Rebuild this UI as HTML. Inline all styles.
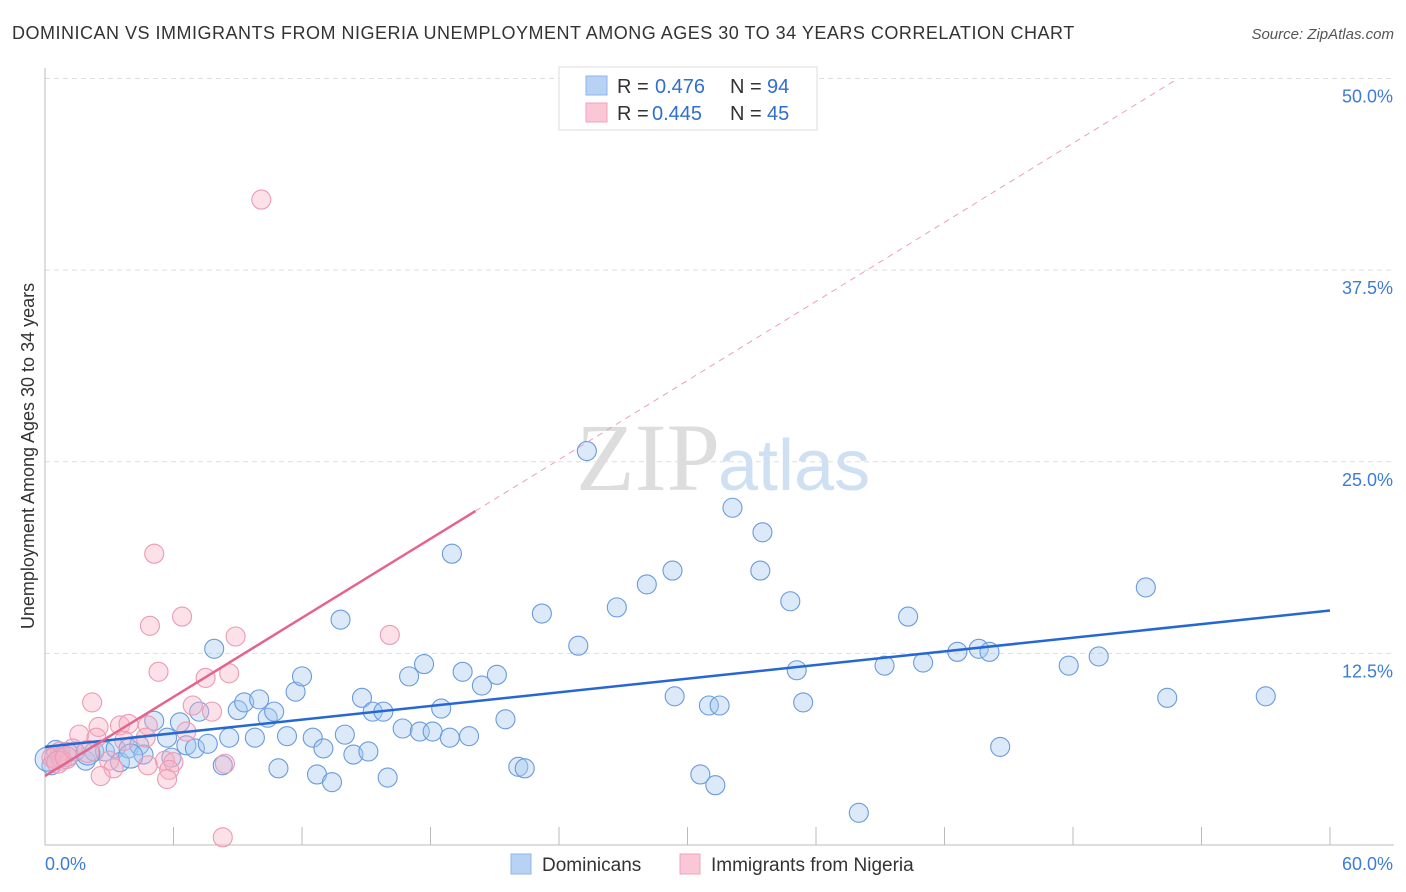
<!DOCTYPE html>
<html><head><meta charset="utf-8"><style>
body{margin:0;background:#fff;font-family:"Liberation Sans",sans-serif;}
#wrap{position:relative;width:1406px;height:892px;overflow:hidden;}
</style></head><body>
<div id="wrap">
<svg id="chart" width="1406" height="892" xmlns="http://www.w3.org/2000/svg">
<text x="12" y="39" font-size="18" fill="#333" letter-spacing="0.5">DOMINICAN VS IMMIGRANTS FROM NIGERIA UNEMPLOYMENT AMONG AGES 30 TO 34 YEARS CORRELATION CHART</text>
<text x="1394" y="39" font-size="15" fill="#555" font-style="italic" text-anchor="end">Source: ZipAtlas.com</text>
<text x="720" y="490" font-size="96" fill="#ddd" text-anchor="end" font-family="Liberation Serif,serif">ZIP</text>
<text x="718" y="490" font-size="72" fill="#cfe0f3">atlas</text>
<g id="grid"></g>
<g id="axes"></g>
<g id="marks"></g>
<g>
<rect x="559" y="67" width="258" height="63" fill="#fff" stroke="#ddd"/>
<rect x="586" y="76" width="21" height="19" fill="#b8d2f5" stroke="#8fb5e8"/>
<rect x="586" y="103" width="21" height="19" fill="#f9c7d6" stroke="#efa3bb"/>
<text x="617" y="93" font-size="20" fill="#333">R = </text><text x="655" y="93" font-size="20" fill="#2f6fd0">0.476</text>
<text x="730" y="93" font-size="20" fill="#333">N = </text><text x="767" y="93" font-size="20" fill="#2f6fd0">94</text>
<text x="617" y="120" font-size="20" fill="#333">R = </text><text x="652" y="120" font-size="20" fill="#2f6fd0">0.445</text>
<text x="730" y="120" font-size="20" fill="#333">N = </text><text x="767" y="120" font-size="20" fill="#2f6fd0">45</text>
</g>
<g>
<rect x="511" y="854" width="20" height="20" fill="#b8d2f5" stroke="#8fb5e8"/>
<text x="542" y="871" font-size="19" fill="#333">Dominicans</text>
<rect x="680" y="854" width="20" height="20" fill="#f9c7d6" stroke="#efa3bb"/>
<text x="711" y="871" font-size="19" fill="#333">Immigrants from Nigeria</text>
</g>
<text transform="translate(34,456) rotate(-90)" font-size="18" fill="#333" text-anchor="middle">Unemployment Among Ages 30 to 34 years</text>
</svg>
</div>
<script>
const yTicks=[12.5,25,37.5,50];
const yTickLabels=["12.5%","25.0%","37.5%","50.0%"];
const xTicks=[0,6,12,18,24,30,36,42,48,54,60];
const xEndLabels=["0.0%","60.0%"];
const domX=[0.3,0.7,1.9,0.5,1.4,2.3,2.8,3.3,3.5,3.9,4.4,4.6,5.1,5.7,5.9,6.3,6.6,7.0,7.2,7.6,7.9,8.3,8.6,9.0,9.3,9.8,10.0,10.4,10.7,10.9,11.3,11.7,12.0,12.5,12.7,13.0,13.4,13.8,14.0,14.4,14.8,15.1,15.3,15.8,16.0,16.7,17.0,17.5,17.7,18.1,18.5,18.9,19.0,19.5,19.8,20.4,21.1,21.5,22.1,22.4,23.2,24.9,25.3,26.7,28.1,29.3,29.4,30.6,31.0,31.3,31.5,32.1,33.4,33.5,34.8,35.1,35.4,38.0,39.2,40.3,41.0,42.6,43.6,44.1,44.6,47.8,49.2,51.4,52.4,57.0,0.1,1.0,2.0,4.0];
const domY=[5.2,5.7,5.5,6.2,6.1,6.1,6.1,6.3,5.4,6.3,6.5,5.9,8.1,7.0,5.7,8.0,6.5,6.3,8.7,6.6,12.8,5.2,7.0,8.8,9.3,7.0,9.5,8.3,8.7,5.0,7.1,10.0,11.0,7.0,4.6,6.3,4.1,14.7,7.2,5.9,9.6,6.1,8.7,8.7,4.4,7.6,11.0,7.4,11.8,7.4,8.9,7.0,19.0,11.3,7.1,10.4,11.1,8.2,5.1,5.0,15.1,13.0,25.7,15.5,17.0,17.9,9.7,4.6,9.1,3.9,9.1,22.0,17.9,20.4,15.9,11.4,9.3,2.1,11.7,14.9,11.9,12.6,12.8,12.6,6.4,11.7,12.3,16.8,9.6,9.7,5.6,5.9,6.0,5.8];
const nigX=[10.1,5.1,6.4,4.9,8.9,16.1,5.3,8.6,7.5,2.2,6.9,7.8,2.5,3.5,3.9,4.8,1.6,2.4,4.7,6.6,3.7,1.3,0.7,0.3,0.8,3.0,5.6,6.0,4.8,8.4,3.2,5.8,2.6,5.7,8.3,0.5,0.6,1.0,2.0];
const nigY=[42.1,19.0,14.9,14.3,13.6,13.7,11.3,11.2,10.9,9.3,9.1,8.7,7.7,7.8,7.9,7.8,7.2,7.0,7.0,7.4,6.8,6.3,6.1,5.7,5.5,5.5,5.5,5.4,5.2,5.3,5.0,4.9,4.5,4.3,0.5,5.7,5.4,5.7,6.1];
const domTrend=[6.4,15.3];
const nigTrend=[4.5,0.86];
const nigSolidEnd=20.1;

const X0=45,X1=1330,Y0=845,PY=15.33;
const sx=v=>X0+(X1-X0)*v/60;
const sy=v=>Y0-v*PY;
const NS="http://www.w3.org/2000/svg";
function mk(t,a,p){const e=document.createElementNS(NS,t);for(const k in a)e.setAttribute(k,a[k]);p.appendChild(e);return e;}
const grid=document.getElementById('grid'),axes=document.getElementById('axes'),marks=document.getElementById('marks');
yTicks.forEach((v,i)=>{
 const l=mk('line',{x1:X0,x2:1394,y1:sy(v),y2:sy(v),stroke:'#ddd','stroke-dasharray':'5,4'},grid);
 
 
 const t=mk('text',{x:1393,y:sy(v)+24,'font-size':18,fill:'#3d7bd8','text-anchor':'end'},axes);
 t.textContent=yTickLabels[i];
 
 
});
const ax=mk('line',{x1:X0,x2:X0,y1:68,y2:Y0,stroke:'#bbb'},axes);


const bx=mk('line',{x1:X0,x2:1394,y1:Y0,y2:Y0,stroke:'#bbb'},axes);


xTicks.forEach(v=>{
 const l=mk('line',{x1:sx(v),x2:sx(v),y1:Y0-18,y2:Y0,stroke:'#bbb'},axes);
 
 
});
const t0=mk('text',{x:45,y:870,'font-size':18,fill:'#3d7bd8'},axes);t0.textContent=xEndLabels[0];


const t1=mk('text',{x:1393,y:870,'font-size':18,fill:'#3d7bd8','text-anchor':'end'},axes);t1.textContent=xEndLabels[1];



domX.forEach((v,i)=>{
 const c=mk('circle',{cx:sx(v),cy:sy(domY[i]),r:i>=90?12:9.5,fill:'rgba(165,199,240,0.4)',stroke:'#6a9bdd','stroke-width':1.1},marks);
 
 
});
nigX.forEach((v,i)=>{
 const c=mk('circle',{cx:sx(v),cy:sy(nigY[i]),r:i>=35?11:9.5,fill:'rgba(246,176,198,0.38)',stroke:'#eb9bb3','stroke-width':1.1},marks);
 
 
});
const bl=mk('line',{x1:sx(0),y1:sy(domTrend[0]),x2:sx(60),y2:sy(domTrend[1]),stroke:'#2567d3','stroke-width':2.5},marks);


const pl=mk('line',{x1:sx(0),y1:sy(nigTrend[0]),x2:sx(nigSolidEnd),y2:sy(nigTrend[0]+nigTrend[1]*nigSolidEnd),stroke:'#e4648e','stroke-width':2.5},marks);


const xe=(50-nigTrend[0])/nigTrend[1];
const pd=mk('line',{x1:sx(nigSolidEnd),y1:sy(nigTrend[0]+nigTrend[1]*nigSolidEnd),x2:sx(xe),y2:sy(50),stroke:'#eaa0b8','stroke-width':1,'stroke-dasharray':'6,5'},marks);


</script>
</body></html>
